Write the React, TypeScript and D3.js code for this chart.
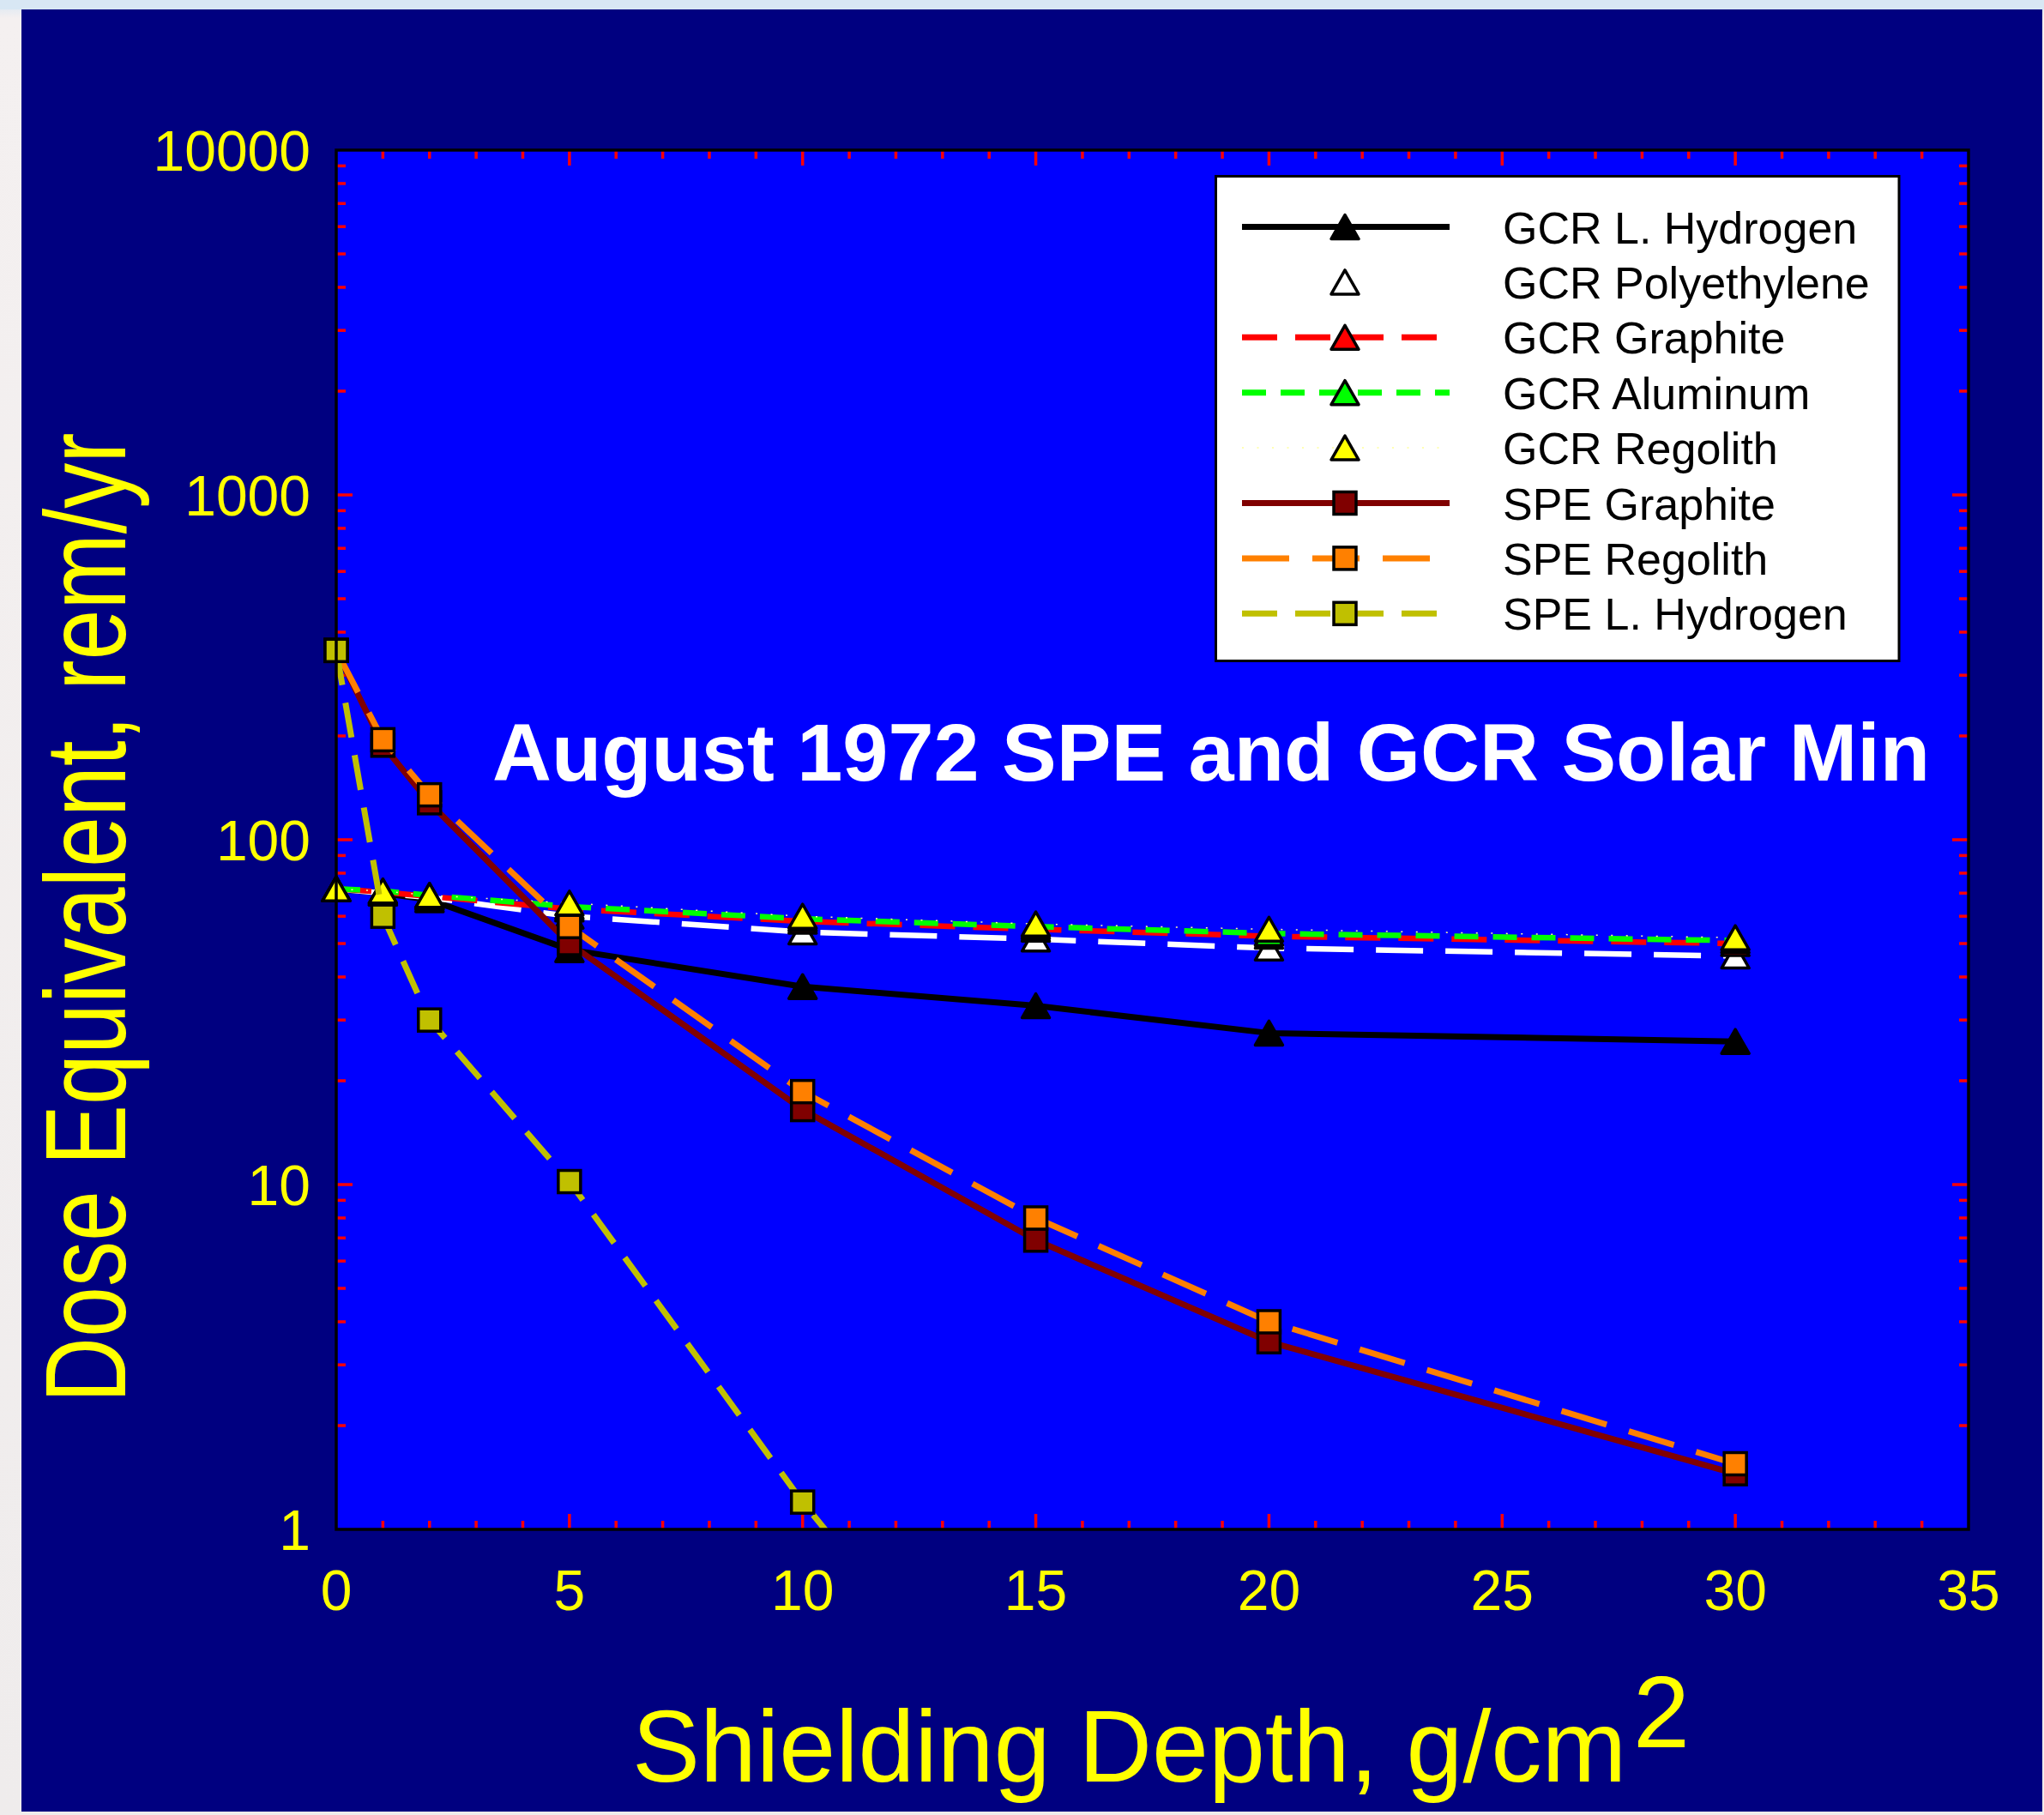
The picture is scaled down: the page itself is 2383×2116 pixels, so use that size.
import React from "react";
import * as d3 from "d3";

// Shielding depth (g/cm^2) at which each material was evaluated
const depths = [0, 1, 2, 5, 10, 15, 20, 30];

// GCR solar-minimum dose equivalent (rem/yr)
const gcrLHydrogen = [72, 70, 67, 48, 37.5, 33, 27.5, 26];
const gcrPolyethylene = [72, 70, 68, 60, 54, 51.5, 48.5, 46];
const gcrGraphite = [72, 70.5, 68.5, 63, 58, 55, 52.5, 50];
const gcrAluminum = [72, 71, 69, 64, 59, 56, 53.5, 51];
const gcrRegolith = [72, 71, 69, 65.5, 60, 57, 55, 52];

// August 1972 SPE dose equivalent (rem/yr)
const speGraphite = [354, 188, 128, 50, 16.5, 6.9, 3.5, 1.45];
const speRegolith = [354, 195, 135, 56, 18.6, 8.0, 4.0, 1.55];
const speLHDepths = [0, 1, 2, 5, 10, 15];
const speLHydrogen = [354, 60, 30, 10.2, 1.2, 0.18];

const xTicks = [0, 5, 10, 15, 20, 25, 30, 35];
const yTicks = [1, 10, 100, 1000, 10000];

const W = 2383;
const H = 2116;
const FONT = "'Liberation Sans', Arial, Helvetica, sans-serif";

type Series = {
  name: string;
  xs: number[];
  ys: number[];
  line: string;
  width: number;
  dash: string | null;
  marker: "tri" | "sq";
  fill: string;
};

const series: Series[] = [
  { name: "GCR L. Hydrogen", xs: depths, ys: gcrLHydrogen, line: "#000000", width: 7, dash: null, marker: "tri", fill: "#000000" },
  { name: "GCR Polyethylene", xs: depths, ys: gcrPolyethylene, line: "#ffffff", width: 6.5, dash: "55 26", marker: "tri", fill: "#ffffff" },
  { name: "GCR Graphite", xs: depths, ys: gcrGraphite, line: "#ff0000", width: 6.5, dash: "41 21", marker: "tri", fill: "#ff0000" },
  { name: "GCR Aluminum", xs: depths, ys: gcrAluminum, line: "#00ff00", width: 6.5, dash: "28 17", marker: "tri", fill: "#00ff00" },
  { name: "GCR Regolith", xs: depths, ys: gcrRegolith, line: "#ffff9a", width: 1.5, dash: "2 15.5", marker: "tri", fill: "#ffff00" },
  { name: "SPE Graphite", xs: depths, ys: speGraphite, line: "#800000", width: 7, dash: null, marker: "sq", fill: "#800000" },
  { name: "SPE Regolith", xs: depths, ys: speRegolith, line: "#ff8000", width: 7, dash: "55 27", marker: "sq", fill: "#ff8000" },
  { name: "SPE L. Hydrogen", xs: speLHDepths, ys: speLHydrogen, line: "#c0c000", width: 7, dash: "41 21", marker: "sq", fill: "#c0c000" },
];

const triPath = (cx: number, cy: number) => {
  const w = 32, h = 28;
  return `M${cx},${cy - h / 2}L${cx + w / 2},${cy + h / 2}L${cx - w / 2},${cy + h / 2}Z`;
};

function Marker({ kind, cx, cy, fill }: { kind: "tri" | "sq"; cx: number; cy: number; fill: string }) {
  if (kind === "tri") {
    return <path d={triPath(cx, cy)} fill={fill} stroke="#000" strokeWidth={3.5} strokeLinejoin="round" />;
  }
  const s = 26;
  return <rect x={cx - s / 2} y={cy - s / 2} width={s} height={s} fill={fill} stroke="#000" strokeWidth={3.5} />;
}

export default function App() {
  const left = 392, right = 2295, top = 175, bottom = 1783;
  const x = d3.scaleLinear().domain([0, 35]).range([left, right]);
  const y = d3.scaleLog().domain([1, 10000]).range([bottom, top]);

  const line = d3
    .line<[number, number]>()
    .x((d) => x(d[0]))
    .y((d) => y(d[1]));

  const xMinor = d3.range(1, 35).filter((v) => v % 5 !== 0);
  const xMajor = [5, 10, 15, 20, 25, 30];
  const yMinor: number[] = [];
  [1, 10, 100, 1000].forEach((dec) => {
    for (let k = 2; k <= 9; k++) yMinor.push(dec * k);
  });
  const yMajor = [10, 100, 1000];

  const tickColor = "#ff0000";
  const tw = 3.5;

  // legend layout
  const lgX = 1417.5, lgY = 205.5, lgW = 796.5, lgH = 565;
  const lgRow0 = 264.5, lgStep = 64.4;
  const lgLineX0 = 1448, lgLineX1 = 1690, lgMarkX = 1568, lgTextX = 1752;

  const inDomain = (v: number) => v >= 1 && v <= 10000;

  return (
    <svg
      width={W}
      height={H}
      viewBox={`0 0 ${W} ${H}`}
      style={{ position: "absolute", left: 0, top: 0, display: "block" }}
    >
      <defs>
        <linearGradient id="pageBg" x1="0" y1="0" x2="0" y2="1">
          <stop offset="0" stopColor="#d6e6f4" />
          <stop offset="0.01" stopColor="#f4f0f0" />
          <stop offset="1" stopColor="#efecec" />
        </linearGradient>
        <clipPath id="plotClip">
          <rect x={left} y={top} width={right - left} height={bottom - top} />
        </clipPath>
      </defs>

      {/* page and panel */}
      <rect x={0} y={0} width={W} height={H} fill="url(#pageBg)" />
      <rect x={0} y={0} width={W} height={11} fill="#d8e7f4" />
      <rect x={25} y={11} width={2356} height={2101} fill="#000080" />

      {/* plot area */}
      <rect x={left} y={top} width={right - left} height={bottom - top} fill="#0000ff" />

      {/* x ticks, bottom and top */}
      {xMinor.map((v) => (
        <g key={`xm${v}`} stroke={tickColor} strokeWidth={tw}>
          <line x1={x(v)} x2={x(v)} y1={bottom} y2={bottom - 10} />
          <line x1={x(v)} x2={x(v)} y1={top} y2={top + 10} />
        </g>
      ))}
      {xMajor.map((v) => (
        <g key={`xM${v}`} stroke={tickColor} strokeWidth={tw}>
          <line x1={x(v)} x2={x(v)} y1={bottom} y2={bottom - 18} />
          <line x1={x(v)} x2={x(v)} y1={top} y2={top + 18} />
        </g>
      ))}
      {/* y ticks, left and right */}
      {yMinor.map((v) => (
        <g key={`ym${v}`} stroke={tickColor} strokeWidth={tw}>
          <line x1={left} x2={left + 11} y1={y(v)} y2={y(v)} />
          <line x1={right} x2={right - 11} y1={y(v)} y2={y(v)} />
        </g>
      ))}
      {yMajor.map((v) => (
        <g key={`yM${v}`} stroke={tickColor} strokeWidth={tw}>
          <line x1={left} x2={left + 19} y1={y(v)} y2={y(v)} />
          <line x1={right} x2={right - 19} y1={y(v)} y2={y(v)} />
        </g>
      ))}

      {/* data series */}
      {series.map((s) => {
        const pts = s.xs.map((d, i) => [d, s.ys[i]] as [number, number]);
        return (
          <g key={s.name}>
            <path
              d={line(pts) || ""}
              fill="none"
              stroke={s.line}
              strokeWidth={s.width}
              strokeDasharray={s.dash || undefined}
              strokeLinejoin="round"
              clipPath="url(#plotClip)"
            />
            {pts
              .filter((p) => inDomain(p[1]))
              .map((p, i) => (
                <Marker key={i} kind={s.marker} cx={x(p[0])} cy={y(p[1])} fill={s.fill} />
              ))}
          </g>
        );
      })}

      {/* plot frame */}
      <rect
        x={left}
        y={top}
        width={right - left}
        height={bottom - top}
        fill="none"
        stroke="#000"
        strokeWidth={3.5}
      />

      {/* tick labels */}
      {xTicks.map((v) => (
        <text
          key={`xl${v}`}
          x={x(v)}
          y={bottom + 94}
          fill="#ffff00"
          fontFamily={FONT}
          fontSize={66}
          textAnchor="middle"
        >
          {v}
        </text>
      ))}
      {yTicks.map((v) => (
        <text
          key={`yl${v}`}
          x={362}
          y={y(v) + 24}
          fill="#ffff00"
          fontFamily={FONT}
          fontSize={66}
          textAnchor="end"
        >
          {v}
        </text>
      ))}

      {/* axis titles */}
      <text x={737} y={2077} fill="#ffff00" fontFamily={FONT} fontSize={118.5}>
        Shielding Depth, g/cm
      </text>
      <text x={1904} y={2037} fill="#ffff00" fontFamily={FONT} fontSize={118.5}>
        2
      </text>
      <text
        transform={`translate(146,1070) rotate(-90)`}
        fill="#ffff00"
        fontFamily={FONT}
        fontSize={134}
        textAnchor="middle"
        textLength={1131}
        lengthAdjust="spacingAndGlyphs"
      >
        Dose Equivalent, rem/yr
      </text>

      {/* chart title */}
      <text
        x={574}
        y={910}
        fill="#ffffff"
        fontFamily={FONT}
        fontWeight="bold"
        fontSize={95}
        textLength={1676}
        lengthAdjust="spacingAndGlyphs"
      >
        August 1972 SPE and GCR Solar Min
      </text>

      {/* legend */}
      <rect x={lgX} y={lgY} width={lgW} height={lgH} fill="#ffffff" stroke="#000" strokeWidth={3} />
      {series.map((s, i) => {
        const cy = lgRow0 + i * lgStep;
        return (
          <g key={`lg${s.name}`}>
            <line
              x1={lgLineX0}
              x2={lgLineX1}
              y1={cy}
              y2={cy}
              stroke={s.line}
              strokeWidth={s.width > 3 ? 7 : s.width}
              strokeDasharray={s.dash || undefined}
            />
            <Marker kind={s.marker} cx={lgMarkX} cy={cy} fill={s.fill} />
            <text x={lgTextX} y={cy + 19} fill="#000" fontFamily={FONT} fontSize={52}>
              {s.name}
            </text>
          </g>
        );
      })}
    </svg>
  );
}
